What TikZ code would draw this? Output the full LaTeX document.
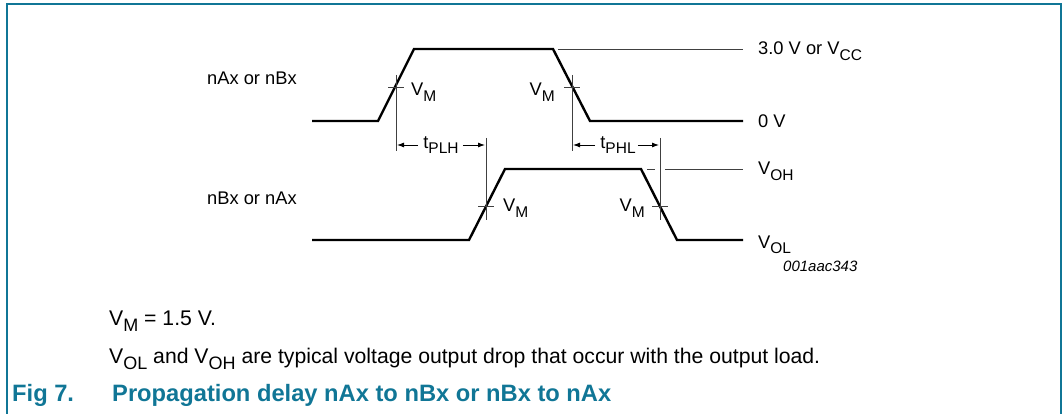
\documentclass[tikz,border=0pt]{standalone}
\usepackage{fontspec}
\setmainfont{Liberation Sans}
\usetikzlibrary{arrows.meta}
\definecolor{figteal}{RGB}{16,118,150}
\newcommand{\lvl}[3][15.5]{#2\raisebox{-0.3em}{\fontsize{#1}{#1}\selectfont #3}}

\begin{document}
\begin{tikzpicture}[x=1pt,y=-1pt,
    wave/.style={line width=2.4pt, line join=miter},
    thin/.style={line width=0.9pt, draw=black!75},
    dimarrow/.style={line width=0.9pt, -{Latex[length=7pt,width=5pt]}},
    lab/.style={inner sep=0pt, font=\fontsize{18.3}{20}\selectfont},
    note/.style={inner sep=0pt, font=\fontsize{21.2}{24}\selectfont}]
\useasboundingbox (0,0) rectangle (1063,414);

% Drawing frame
\draw [figteal, line width=1.5pt] (7,414) -- (7,4) -- (1061,4) -- (1061,414);%

% Drawing input waveform
\draw [wave] (312,121) -- (378,121) -- (414,49) -- (553,49) -- (590,121) -- (743,121);%
\draw [thin] (558,49) -- (743,49);%
\node [lab, anchor=base west] (inA) at (207,85) {nAx or nBx};%
\node [lab, anchor=base west] (hi) at (758,55) {3.0 V or \lvl{V}{CC}};%
\node [lab, anchor=base west] (lo) at (758,128) {0 V};%

% Marking V_M on input edges
\draw [thin] (388,87) -- (404,87);%
\draw [thin] (396,75) -- (396,151);%
\node [lab, anchor=base west] (vma) at (411,96) {\lvl{V}{M}};%
\draw [thin] (564,87) -- (580,87);%
\draw [thin] (572,75) -- (572,151);%
\node [lab, anchor=base east] (vmb) at (555,96) {\lvl{V}{M}};%

% Drawing output waveform
\draw [wave] (312,240) -- (469,240) -- (505,169) -- (641,169) -- (677,240) -- (743,240);%
\draw [thin] (647,169) -- (655,169);%
\draw [thin] (665,169) -- (743,169);%
\node [lab, anchor=base west] (inB) at (207,205) {nBx or nAx};%
\node [lab, anchor=base west] (voh) at (758,175) {\lvl{V}{OH}};%
\node [lab, anchor=base west] (vol) at (758,248) {\lvl{V}{OL}};%
\node [inner sep=0pt, anchor=base west, font=\fontsize{15}{16}\selectfont\itshape] (code) at (783,272) {001aac343};%

% Marking V_M on output edges
\draw [thin] (478,206) -- (494,206);%
\draw [thin] (486,138) -- (486,220);%
\node [lab, anchor=base west] (vmc) at (503,212) {\lvl{V}{M}};%
\draw [thin] (652,206) -- (668,206);%
\draw [thin] (660,138) -- (660,220);%
\node [lab, anchor=base east] (vmd) at (645,212) {\lvl{V}{M}};%

% Drawing delay times
\node [lab] (tplh) at (441,145) {\lvl{t}{PLH}};%
\draw [dimarrow] (tplh.west) ++(-5,0) coordinate (pa) -- (397,145);%
\draw [dimarrow] (tplh.east) ++(4,0) coordinate (pb) -- (485,145);%
\node [lab] (tphl) at (618,145) {\lvl{t}{PHL}};%
\draw [dimarrow] (tphl.west) ++(-5,0) coordinate (pc) -- (573,145);%
\draw [dimarrow] (tphl.east) ++(2,0) coordinate (pd) -- (659,145);%

% Notes and caption
\node [note, anchor=base west] (note1) at (109,325) {\lvl[18]{V}{M} = 1.5 V.};%
\node [note, anchor=base west] (note2) at (109,363) {\lvl[18]{V}{OL} and \lvl[18]{V}{OH} are typical voltage output drop that occur with the output load.};%
\node [inner sep=0pt, anchor=base west, text=figteal, font=\fontsize{23.7}{26}\selectfont\bfseries] (fig) at (12,401) {Fig 7.};%
\node [inner sep=0pt, anchor=base west, text=figteal, font=\fontsize{23.7}{26}\selectfont\bfseries] (cap) at (112,401) {Propagation delay nAx to nBx or nBx to nAx};%
\end{tikzpicture}
\end{document}
